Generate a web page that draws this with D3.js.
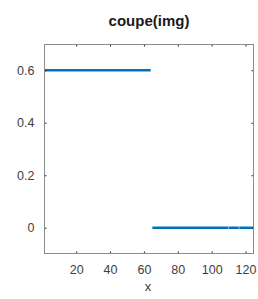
<!DOCTYPE html>
<html>
<head>
<style>
  body { margin: 0; background: #fff; }
  svg { display: block; font-family: "Liberation Sans", Arial, sans-serif; }
</style>
</head>
<body>
<svg width="258" height="299"></svg>
<script src="https://d3js.org/d3.v7.min.js"></script>
<script>
// profile segments: each runs from segStart to segEnd at segValue
var segStart = [1, 65, 110.3, 116.3];
var segEnd   = [64, 110, 116, 125];
var segValue = [0.6, 0, 0, 0];

var xTicks = [20, 40, 60, 80, 100, 120];
var yTicks = [0, 0.2, 0.4, 0.6];
var xDomain = [1, 125];
var yDomain = [-0.1, 0.7];

var svg = d3.select("svg");
var mLeft = 44, mRight = 254, mTop = 44, mBottom = 254;

var x = d3.scaleLinear().domain(xDomain).range([mLeft, mRight]);
var y = d3.scaleLinear().domain(yDomain).range([mBottom, mTop]);

var segs = segStart.map(function(s, i) {
  return [[s, segValue[i]], [segEnd[i], segValue[i]]];
});

var line = d3.line()
  .x(function(d) { return x(d[0]); })
  .y(function(d) { return y(d[1]); });

svg.selectAll("path.seg")
  .data(segs)
  .enter().append("path")
  .attr("class", "seg")
  .attr("d", line)
  .attr("fill", "none")
  .attr("stroke", "#0072bd")
  .attr("stroke-width", 2.5);

// axes with inward ticks, mirrored on top/right
function styleAxis(g) {
  g.select(".domain").remove();
  g.selectAll(".tick line").attr("stroke", "#262626");
  g.selectAll(".tick text").attr("fill", "#404040").style("font-size", "12.5px");
}

svg.append("g").attr("transform", "translate(0," + mBottom + ")")
  .call(d3.axisBottom(x).tickValues(xTicks).tickSizeInner(-2.5).tickPadding(11))
  .call(styleAxis);
svg.append("g").attr("transform", "translate(0," + mTop + ")")
  .call(d3.axisTop(x).tickValues(xTicks).tickSizeInner(-2.5).tickFormat(""))
  .call(styleAxis);
svg.append("g").attr("transform", "translate(" + mLeft + ",0)")
  .call(d3.axisLeft(y).tickValues(yTicks).tickSizeInner(-2.5).tickPadding(9.5)
    .tickFormat(function(d) { return d === 0 ? "0" : d3.format(".1f")(d); }))
  .call(styleAxis);
svg.append("g").attr("transform", "translate(" + mRight + ",0)")
  .call(d3.axisRight(y).tickValues(yTicks).tickSizeInner(-2.5).tickFormat(""))
  .call(styleAxis);

svg.append("rect")
  .attr("x", mLeft + 0.5).attr("y", mTop + 0.5)
  .attr("width", mRight - mLeft - 1).attr("height", mBottom - mTop - 1)
  .attr("fill", "none").attr("stroke", "#8c8c8c").attr("stroke-width", 1);

svg.append("text")
  .attr("x", (mLeft + mRight) / 2).attr("y", 26)
  .attr("text-anchor", "middle")
  .style("font-size", "15px").style("font-weight", "bold")
  .attr("fill", "#1a1a1a")
  .text("coupe(img)");

svg.append("text")
  .attr("x", (mLeft + mRight) / 2 - 1).attr("y", 291)
  .attr("text-anchor", "middle")
  .style("font-size", "13px")
  .attr("fill", "#404040")
  .text("x");
</script>
</body>
</html>
